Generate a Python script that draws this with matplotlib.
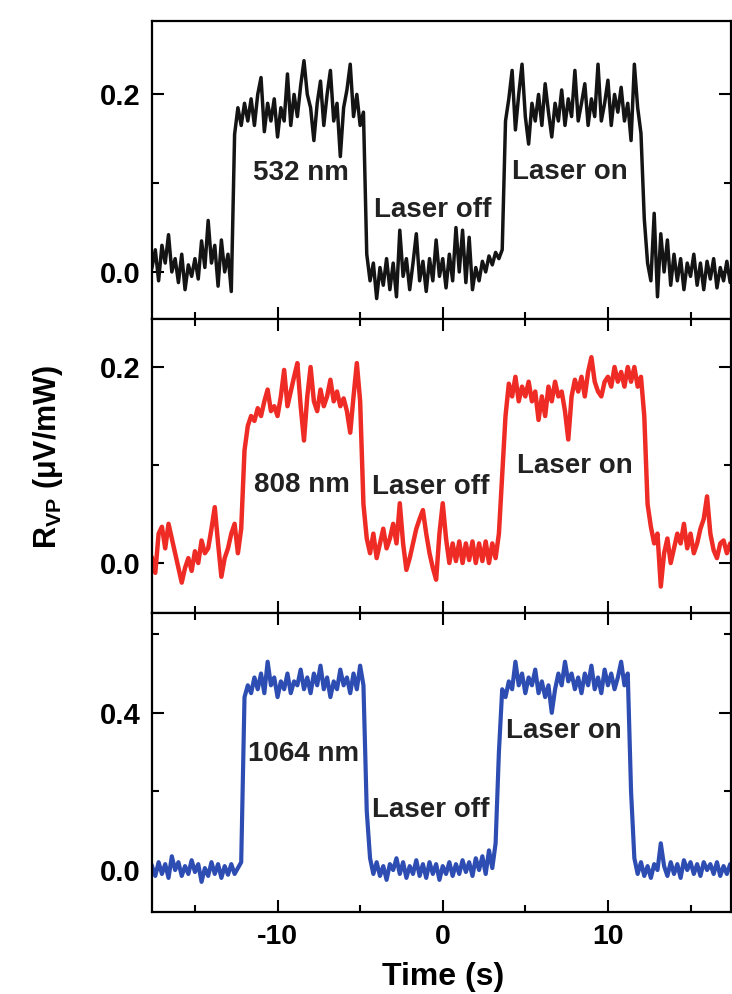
import numpy as np
import matplotlib
matplotlib.use("Agg")
import matplotlib.pyplot as plt
from matplotlib.ticker import MultipleLocator, FormatStrFormatter

plt.rcParams['font.family'] = ['Liberation Sans', 'DejaVu Sans']
plt.rcParams['font.weight'] = 'bold'
plt.rcParams['axes.unicode_minus'] = False
plt.rcParams['mathtext.fontset'] = 'custom'
plt.rcParams['mathtext.rm'] = 'Liberation Sans:bold'
plt.rcParams['mathtext.bf'] = 'Liberation Sans:bold'

# sampling grid (s)
t_start, t_step, n_pts = -17.6, 0.2, 177
time = np.round(t_start + t_step * np.arange(n_pts), 2)

# 532 nm (black)
r532 = [
    0.005, 0.025, -0.01, 0.03, 0.01, 0.042, 0.0, 0.015, -0.012, 0.02,
    -0.02, 0.008, -0.005, 0.015, -0.008, 0.035, 0.005, 0.058, 0.01, 0.03,
    -0.016, 0.036, 0.0, 0.02, -0.022,
    0.155, 0.185, 0.165, 0.19, 0.17, 0.195, 0.165, 0.2, 0.219, 0.158,
    0.19, 0.17, 0.195, 0.152, 0.185, 0.17, 0.223, 0.165, 0.2, 0.175,
    0.21, 0.238, 0.2, 0.185, 0.148, 0.19, 0.215, 0.165, 0.2, 0.227,
    0.17, 0.19, 0.13, 0.185, 0.205, 0.234, 0.175, 0.2, 0.165, 0.18,
    0.02, -0.01, 0.01, -0.03, 0.005, -0.015, 0.015, -0.02, 0.01, -0.028,
    0.047, -0.005, 0.015, -0.02, 0.01, 0.043, -0.01, 0.012, -0.022, 0.015,
    -0.01, 0.036, -0.005, 0.015, -0.018, 0.02, -0.01, 0.05, 0.0, 0.047,
    -0.012, 0.039, -0.02, 0.005, -0.01, 0.012, 0.0, 0.018, 0.008, 0.022,
    0.015, 0.025,
    0.17, 0.195, 0.227, 0.16, 0.2, 0.234, 0.175, 0.144, 0.19, 0.17,
    0.2, 0.165, 0.212, 0.18, 0.152, 0.19, 0.17, 0.205, 0.165, 0.195,
    0.175, 0.227, 0.17, 0.19, 0.212, 0.165, 0.195, 0.175, 0.234, 0.17,
    0.19, 0.216, 0.165, 0.2, 0.18, 0.208, 0.17, 0.19, 0.148, 0.234,
    0.185, 0.156,
    0.06, 0.01, -0.01, 0.066, -0.028, 0.043, 0.0, 0.036, -0.015, 0.02,
    -0.01, 0.015, -0.02, 0.01, -0.005, 0.02, -0.015, 0.01, -0.02, 0.012,
    -0.008, 0.015, -0.018, 0.005, -0.01, 0.012, -0.012, 0.005,
]

# 808 nm (red)
r808 = [
    0.005, -0.01, 0.03, 0.037, 0.015, 0.04, 0.025, 0.01, -0.005, -0.02,
    -0.005, 0.005, -0.008, 0.012, 0.0, 0.023, 0.01, 0.015, 0.035, 0.057,
    0.02, -0.014, 0.005, 0.015, 0.03, 0.04, 0.01,
    0.035, 0.115, 0.14, 0.15, 0.145, 0.158, 0.15, 0.165, 0.177, 0.155,
    0.16, 0.15, 0.17, 0.197, 0.16, 0.175, 0.19, 0.204, 0.16, 0.125,
    0.17, 0.2, 0.165, 0.155, 0.177, 0.16, 0.17, 0.187, 0.165, 0.175,
    0.16, 0.168, 0.155, 0.133, 0.17, 0.204, 0.165, 0.06,
    0.025, 0.01, 0.03, 0.005, 0.02, 0.035, 0.015, 0.025, 0.04, 0.02,
    0.061, 0.02, -0.007, 0.005, 0.02, 0.035, 0.045, 0.054, 0.03, 0.01,
    -0.005, -0.017, 0.03, 0.061, 0.025, 0.0, 0.02, 0.002, 0.022, 0.0,
    0.02, 0.003, 0.022, 0.0, 0.02, 0.002, 0.022, 0.0, 0.02, 0.005,
    0.03,
    0.09, 0.15, 0.183, 0.17, 0.19, 0.165, 0.18, 0.17, 0.185, 0.165,
    0.175, 0.146, 0.17, 0.15, 0.18, 0.165, 0.185, 0.17, 0.175, 0.155,
    0.126, 0.17, 0.187, 0.175, 0.19, 0.17, 0.195, 0.21, 0.185, 0.175,
    0.17, 0.185, 0.19, 0.18, 0.2, 0.185, 0.195, 0.18, 0.2, 0.185,
    0.2, 0.18, 0.19,
    0.15, 0.06, 0.037, 0.02, 0.03, -0.024, 0.01, 0.025, 0.0, 0.015,
    0.03, 0.02, 0.04, 0.015, 0.03, 0.01, 0.02, 0.035, 0.045, 0.068,
    0.03, 0.013, 0.005, 0.02, 0.023, 0.01, 0.02, 0.015,
]

# 1064 nm (blue)
r1064 = [
    0.01, -0.015, 0.02, -0.01, 0.015, -0.02, 0.035, 0.0, 0.02, -0.015,
    0.01, -0.01, 0.025, -0.005, 0.015, -0.03, 0.005, -0.015, 0.02, -0.01,
    0.015, -0.02, 0.01, -0.012, 0.015, -0.01, 0.005, 0.02,
    0.44, 0.47, 0.45, 0.49, 0.46, 0.5, 0.45, 0.53, 0.47, 0.49,
    0.44, 0.48, 0.46, 0.5, 0.45, 0.48, 0.47, 0.51, 0.46, 0.49,
    0.45, 0.5, 0.47, 0.52, 0.46, 0.49, 0.44, 0.48, 0.46, 0.51,
    0.47, 0.49, 0.45, 0.5, 0.46, 0.52, 0.47,
    0.15, 0.03, -0.01, 0.02, -0.015, 0.01, -0.025, 0.015, 0.0, 0.03,
    -0.01, 0.02, -0.02, 0.01, -0.01, 0.025, -0.015, 0.015, -0.02, 0.02,
    -0.01, 0.015, -0.025, 0.01, -0.01, 0.02, -0.015, 0.015, -0.01, 0.025,
    -0.005, 0.02, -0.015, 0.03, 0.0, 0.035, -0.01, 0.05, 0.005, 0.068,
    0.3, 0.46, 0.44, 0.48, 0.46, 0.53, 0.47, 0.5, 0.45, 0.49,
    0.47, 0.51, 0.45, 0.48, 0.44, 0.47, 0.4, 0.46, 0.5, 0.47,
    0.53, 0.48, 0.5, 0.46, 0.49, 0.45, 0.5, 0.47, 0.52, 0.46,
    0.49, 0.45, 0.51, 0.47, 0.5, 0.46, 0.49, 0.53, 0.47, 0.5,
    0.2, 0.03, -0.01, 0.02, -0.015, 0.01, -0.02, 0.015, 0.0, 0.068,
    0.01, -0.015, 0.02, -0.01, 0.015, -0.02, 0.025, 0.0, 0.02, -0.01,
    0.015, -0.015, 0.02, 0.0, 0.015, -0.01, 0.02, -0.015, 0.01, -0.01,
    0.015, 0.0,
]

series = [r532, r808, r1064]
colors = ['#141414', '#ee2b24', '#2d4db3']
widths = [2.5, 3.2, 3.0]
ylims = [(-0.053, 0.283), (-0.051, 0.249), (-0.106, 0.654)]
majors = [0.2, 0.2, 0.4]
minors = [0.1, 0.1, 0.2]
wl_labels = ['532 nm', '808 nm', '1064 nm']
wl_pos = [(-8.6, 0.111), (-8.5, 0.080), (-8.4, 0.294)]
off_pos = [(-0.6, 0.070), (-0.7, 0.078), (-0.7, 0.153)]
on_pos = [(7.7, 0.113), (8.0, 0.099), (7.35, 0.353)]
xlim = (-17.6, 17.45)

W, H = 732, 994
fig = plt.figure(figsize=(W / 100, H / 100), dpi=100)
left, right = 152 / W, 731 / W
edges = [20.7, 319, 613, 911.7]
axes = []
for i in range(3):
    top = 1 - edges[i] / H
    bot = 1 - edges[i + 1] / H
    ax = fig.add_axes([left, bot, right - left, top - bot])
    axes.append(ax)
    ax.plot(time, series[i], color=colors[i], lw=widths[i], solid_joinstyle='round')
    ax.set_xlim(*xlim)
    ax.set_ylim(*ylims[i])
    ax.xaxis.set_major_locator(MultipleLocator(10))
    ax.xaxis.set_minor_locator(MultipleLocator(5))
    ax.yaxis.set_major_locator(MultipleLocator(majors[i]))
    ax.yaxis.set_minor_locator(MultipleLocator(minors[i]))
    ax.yaxis.set_major_formatter(FormatStrFormatter('%.1f'))
    ax.tick_params(which='both', direction='in', top=(i > 0), right=True, width=1.5)
    ax.tick_params(which='major', length=8.5)
    ax.tick_params(which='minor', length=5)
    ax.tick_params(axis='y', labelsize=21, pad=8)
    ax.tick_params(axis='x', labelsize=20.5, pad=9)
    for s in ax.spines.values():
        s.set_linewidth(1.6)
    if i < 2:
        ax.tick_params(axis='x', labelbottom=False)
    fs = 20
    ax.text(*wl_pos[i], wl_labels[i], ha='center', va='center', fontsize=fs, fontweight='bold', color='#222222')
    ax.text(*off_pos[i], 'Laser off', ha='center', va='center', fontsize=fs, fontweight='bold', color='#222222')
    ax.text(*on_pos[i], 'Laser on', ha='center', va='center', fontsize=fs, fontweight='bold', color='#222222')

fig.text(443 / W, 1 - 977 / H, 'Time (s)', ha='center', va='center', fontsize=23, fontweight='bold')
fig.text(48 / W, 1 - 457 / H, r'R$_{\mathrm{VP}}$ (μV/mW)', rotation=90,
         ha='center', va='center', fontsize=22, fontweight='bold')

fig.savefig('out.png', dpi=100)
